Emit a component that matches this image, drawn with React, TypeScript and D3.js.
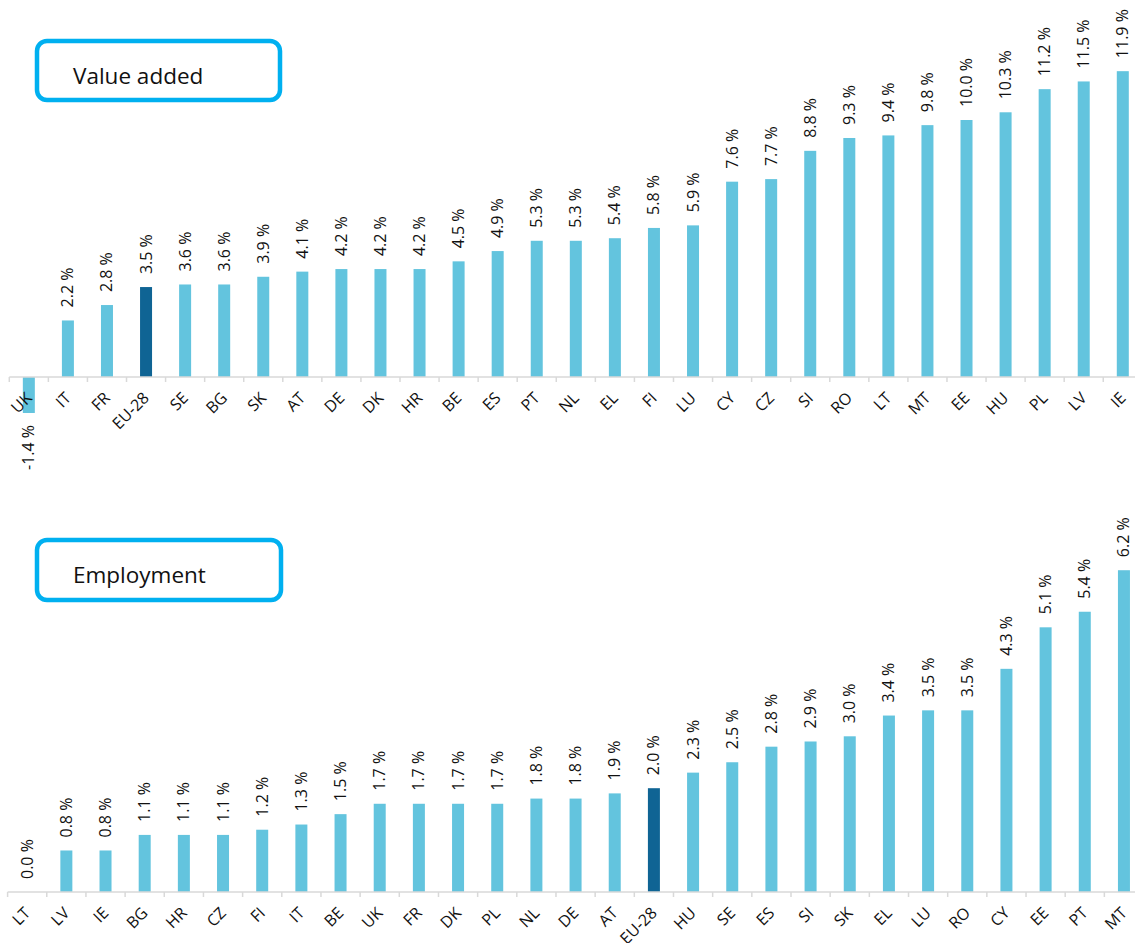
import React from "react";
import * as d3 from "d3";

const vaCategories = ["UK","IT","FR","EU-28","SE","BG","SK","AT","DE","DK","HR","BE","ES","PT","NL","EL","FI","LU","CY","CZ","SI","RO","LT","MT","EE","HU","PL","LV","IE"];
const vaValues = [-1.4,2.2,2.8,3.5,3.6,3.6,3.9,4.1,4.2,4.2,4.2,4.5,4.9,5.3,5.3,5.4,5.8,5.9,7.6,7.7,8.8,9.3,9.4,9.8,10.0,10.3,11.2,11.5,11.9];

const empCategories = ["LT","LV","IE","BG","HR","CZ","FI","IT","BE","UK","FR","DK","PL","NL","DE","AT","EU-28","HU","SE","ES","SI","SK","EL","LU","RO","CY","EE","PT","MT"];
const empValues = [0.0,0.8,0.8,1.1,1.1,1.1,1.2,1.3,1.5,1.7,1.7,1.7,1.7,1.8,1.8,1.9,2.0,2.3,2.5,2.8,2.9,3.0,3.4,3.5,3.5,4.3,5.1,5.4,6.2];

const LIGHT = "#63C4DE";
const DARK = "#0F6494";
const FONT = "'Open Sans', sans-serif";

type PanelProps = {
  title: string;
  cats: string[];
  vals: number[];
  x0: number;
  x1: number;
  axisY: number;
  pxPerUnit: number;
  box: { x: number; y: number; w: number; h: number };
};

function Panel({ title, cats, vals, x0, x1, axisY, pxPerUnit, box }: PanelProps) {
  const x = d3.scaleBand<string>().domain(cats).range([x0, x1]).paddingInner(0).paddingOuter(0);
  const y = d3.scaleLinear().domain([0, 10]).range([axisY, axisY - 10 * pxPerUnit]);
  const bw = 12;
  const bandEdges = cats.map((c) => x(c) as number).concat([x1]);
  const fmt = (v: number) => v.toFixed(1) + " %";
  return (
    <g>
      <rect x={box.x} y={box.y} width={box.w} height={box.h} rx={10} ry={10} fill="#fff" stroke="#00B0F0" strokeWidth={4.5} />
      <text x={box.x + 36} y={box.y + 43} fontFamily={FONT} fontSize={22.5} fill="#111">{title}</text>
      {cats.map((c, i) => {
        const v = vals[i];
        const cx = (x(c) as number) + x.bandwidth() / 2;
        const top = y(Math.max(0, v));
        const bot = y(Math.min(0, v));
        const color = c === "EU-28" ? DARK : LIGHT;
        const label = fmt(v);
        return (
          <g key={c}>
            {v !== 0 && <rect x={cx - bw / 2} y={top} width={bw} height={bot - top} fill={color} />}
            {v >= 0 ? (
              <text transform={`translate(${cx + 5.5},${top - 13}) rotate(-90)`} textAnchor="start" fontFamily={FONT} fontSize={16} fill="#111">{label}</text>
            ) : (
              <text transform={`translate(${cx + 5.5},${bot + 12}) rotate(-90)`} textAnchor="end" fontFamily={FONT} fontSize={16} fill="#111">{label}</text>
            )}
            <text transform={`translate(${cx + 1},${axisY + 19}) rotate(-45)`} textAnchor="end" dominantBaseline="middle" fontFamily={FONT} fontSize={16} fill="#111">{c}</text>
          </g>
        );
      })}
      <line x1={x0} x2={x1} y1={axisY} y2={axisY} stroke="#D9D9D9" strokeWidth={1.5} />
      {bandEdges.map((e, i) => (
        <line key={i} x1={e} x2={e} y1={axisY} y2={axisY + 5} stroke="#D9D9D9" strokeWidth={1.5} />
      ))}
    </g>
  );
}

export default function App() {
  return (
    <svg width={1135} height={943} style={{ position: "absolute", left: 0, top: 0, background: "#fff" }}>
      <Panel
        title="Value added"
        cats={vaCategories}
        vals={vaValues}
        x0={9.3}
        x1={9.3 + 29 * 39.07}
        axisY={377}
        pxPerUnit={25.7}
        box={{ x: 37, y: 41, w: 243, h: 59 }}
      />
      <Panel
        title="Employment"
        cats={empCategories}
        vals={empValues}
        x0={7.6}
        x1={7.6 + 29 * 39.17}
        axisY={892}
        pxPerUnit={51.9}
        box={{ x: 37, y: 540, w: 244, h: 60 }}
      />
    </svg>
  );
}
